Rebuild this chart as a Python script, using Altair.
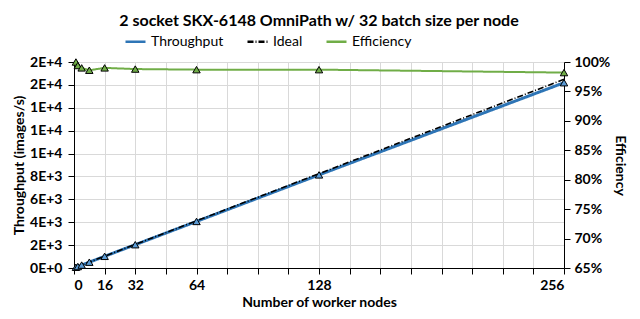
import altair as alt
import pandas as pd

nodes = [1, 2, 4, 8, 16, 32, 64, 128, 256]
throughput = [64.4, 128, 255, 508, 1020, 2036, 4068, 8136, 16190]
ideal = [64.4, 128.8, 257.6, 515.2, 1030.4, 2060.8, 4121.6, 8243.2, 16486.4]
efficiency = [1.000, 0.994, 0.990, 0.986, 0.990, 0.988, 0.987, 0.987, 0.982]

series = ["Throughput", "Ideal", "Efficiency"]
colors = ["#2E75B6", "#000000", "#70AD47"]
dashes = [[1, 0], [6, 2, 1, 2], [1, 0]]
x_ticks = list(range(0, 257, 16))
x_labels = [0, 16, 32, 64, 128, 256]
y_ticks = list(range(0, 18001, 2000))
eff_ticks = [0.65, 0.70, 0.75, 0.80, 0.85, 0.90, 0.95, 1.00]

df = pd.DataFrame({"nodes": nodes, "Throughput": throughput,
                   "Ideal": ideal, "Efficiency": efficiency})

FONT = "Lato"

legend = alt.Legend(title=None, orient="none", direction="horizontal",
                    legendX=50, legendY=-32,
                    labelFont=FONT, labelFontSize=14, labelColor="black",
                    symbolType="stroke", symbolSize=400, symbolStrokeWidth=2.5,
                    columnPadding=18, labelOffset=4)
color = alt.Color("series:N", scale=alt.Scale(domain=series, range=colors), legend=legend)
dash = alt.StrokeDash("series:N", scale=alt.Scale(domain=series, range=dashes), legend=legend)

label_test = "indexof([" + ",".join(str(v) for v in x_labels) + "], datum.value) >= 0 ? datum.label : ''"
x = alt.X("nodes:Q", scale=alt.Scale(domain=[0, 256], nice=False, zero=False),
          axis=alt.Axis(values=x_ticks, labelExpr=label_test,
                        title="Number of worker nodes", grid=True,
                        labelPadding=4, titlePadding=3))

y_left = alt.Y("value:Q", scale=alt.Scale(domain=[0, 18000], nice=False),
               axis=alt.Axis(values=y_ticks, grid=True,
                             labelExpr="replace(format(datum.value, '.0e'), 'e', 'E')",
                             title="Throughput (images/s)", labelPadding=6, titlePadding=3))
y_right = alt.Y("value:Q", scale=alt.Scale(domain=[0.65, 1.0], nice=False, zero=False),
                axis=alt.Axis(values=eff_ticks, format=".0%", orient="right", grid=False,
                              title="Efficiency", labelPadding=4, titlePadding=3))

base = alt.Chart(df)

thr_line = base.transform_fold(["Throughput"], as_=["series", "value"]).mark_line(
    strokeWidth=3).encode(x=x, y=y_left, color=color, strokeDash=dash)
ideal_line = base.transform_fold(["Ideal"], as_=["series", "value"]).mark_line(
    strokeWidth=1.6).encode(x=x, y=y_left, color=color, strokeDash=dash)
thr_pts = base.transform_fold(["Throughput"], as_=["series", "value"]).mark_point(
    shape="triangle-up", filled=True, fill="#5B9BD5", stroke="black", strokeWidth=1,
    size=55, opacity=1).encode(x=x, y=y_left)

eff_line = base.transform_fold(["Efficiency"], as_=["series", "value"]).mark_line(
    strokeWidth=2).encode(x=x, y=y_right, color=color, strokeDash=dash)
eff_pts = base.transform_fold(["Efficiency"], as_=["series", "value"]).mark_point(
    shape="triangle-up", filled=True, fill="#70AD47", stroke="black", strokeWidth=1,
    size=55, opacity=1).encode(x=x, y=y_right)

chart = alt.layer(
    alt.layer(thr_line, ideal_line, thr_pts),
    alt.layer(eff_line, eff_pts),
).resolve_scale(y="independent").properties(
    width=490, height=206,
    autosize=alt.AutoSizeParams(type="none"),
    padding={"left": 66, "top": 54, "right": 67, "bottom": 43},
    title=alt.TitleParams("2 socket SKX-6148 OmniPath w/ 32 batch size per node",
                          font=FONT, fontSize=16, fontWeight="bold", color="black",
                          anchor="middle", offset=1),
).configure_axis(
    labelFont=FONT, labelFontSize=14, labelFontWeight="bold", labelColor="black",
    titleFont=FONT, titleFontSize=14, titleFontWeight="bold", titleColor="black",
    domainColor="black", tickColor="black", tickSize=6, gridColor="#D9D9D9",
).configure_view(stroke=None)

chart.save("out.html", embed_options={"renderer": "svg", "actions": False})
